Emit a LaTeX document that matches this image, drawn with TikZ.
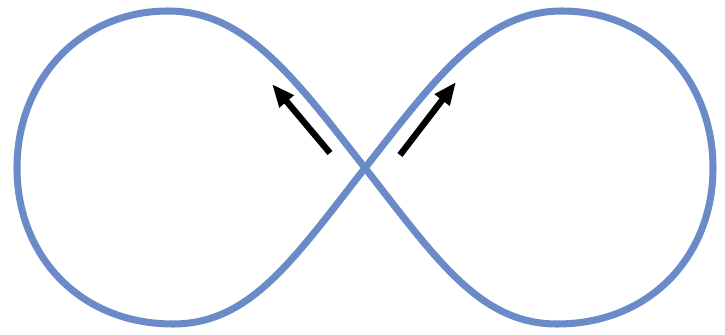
\documentclass[tikz,border=0pt]{standalone}
\usetikzlibrary{arrows.meta}
\definecolor{loopblue}{RGB}{106,138,200}
\begin{document}
\begin{tikzpicture}[x=0.02cm,y=-0.02cm]
\useasboundingbox (0,0) rectangle (725,335);
\coordinate (c) at (365,168);
% left lobe, then right lobe
\draw[loopblue,line width=4pt]
  (c) .. controls (293,76) and (245,11) .. (168,11)
      .. controls (80,11) and (17,80) .. (17,168)
      .. controls (17,256) and (80,324) .. (173,324)
      .. controls (250,324) and (293,260) .. (c)
      .. controls (437,76) and (485,11) .. (562,11)
      .. controls (650,11) and (713,80) .. (713,168)
      .. controls (713,256) and (650,324) .. (557,324)
      .. controls (480,324) and (437,260) .. (c);
\coordinate (lt) at (330,153);
\coordinate (lh) at (272,84);
\coordinate (rt) at (400,155);
\coordinate (rh) at (456,82);
\draw[-{Triangle[length=13pt,width=10pt]},line width=3.6pt] (lt) -- (lh);
\draw[-{Triangle[length=13pt,width=10pt]},line width=3.6pt] (rt) -- (rh);
\end{tikzpicture}
\end{document}
